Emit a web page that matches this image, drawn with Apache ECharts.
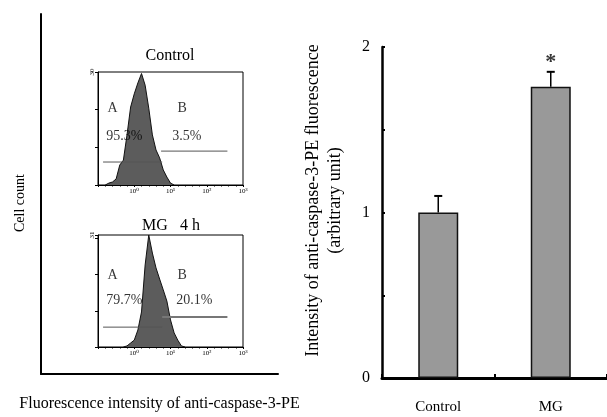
<!DOCTYPE html>
<html>
<head>
<meta charset="utf-8">
<script src="https://cdn.jsdelivr.net/npm/echarts@6/dist/echarts.min.js"></script>
<style>
html,body{margin:0;padding:0;background:#fff;}
#main{width:607px;height:417px;}
</style>
</head>
<body>
<div id="main"></div>
<script>
// histogram bins (log10 of fluorescence) and cell counts
var ctrlBins = [-0.8,-0.7,-0.6,-0.5,-0.4,-0.3,-0.2,-0.1,0,0.1,0.2,0.3,0.4,0.5,0.6,0.7,0.8,0.9,1.0,1.1];
var ctrlCounts = [0,0.5,0.8,1.6,5.3,6.6,13.3,20.7,24.2,27.1,29.6,26.5,20.4,13.3,9.3,7.2,4.0,2.1,0.5,0];
var mgBins = [-0.3,-0.2,-0.1,0,0.1,0.2,0.3,0.4,0.5,0.6,0.7,0.8,0.9,1.0,1.1,1.2,1.3,1.4];
var mgCounts = [0,0.3,1.1,1.9,4.7,9.7,22.7,31,26,21.9,18.8,15.8,12.7,7.5,3.9,1.9,0.3,0];
var histTicks = ['10⁰','10¹','10²','10³'];

// gates: [from, to, level]
var ctrlGateA = [-0.86, 0.77, 6.1];
var ctrlGateB = [0.74, 2.57, 9.0];
var mgGateA = [-0.86, 0.77, 5.5];
var mgGateB = [0.77, 2.57, 8.3];
var ctrlPercents = ['95.3%', '3.5%'];
var mgPercents = ['79.7%', '20.1%'];

// bar chart
var barCategories = ['Control', 'MG'];
var barValues = [1.0, 1.76];
var barErrors = [0.1, 0.09];
var barStars = ['', '*'];

function pairs(xs, ys) {
    var out = [];
    for (var i = 0; i < xs.length; i++) out.push([xs[i], ys[i]]);
    return out;
}
function gateLine(g) {
    return [[g[0], g[2]], [g[1], g[2]]];
}

var serif = '"Liberation Serif", "DejaVu Serif", serif';
var chart = echarts.init(document.getElementById('main'));

function histX(idx) {
    return {
        type: 'value', gridIndex: idx, min: -1, max: 3, interval: 1,
        axisLine: {onZero: false, lineStyle: {color: '#000', width: 1}},
        axisTick: {show: true, length: 2, lineStyle: {color: '#000'}},
        minorTick: {show: true, splitNumber: 5, length: 1.5, lineStyle: {color: '#000'}},
        axisLabel: {
            fontSize: 7, color: '#000', margin: 3, fontFamily: serif,
            formatter: function(v) { return v >= 0 ? histTicks[v] : ''; }
        },
        splitLine: {show: false}
    };
}
function histY(idx, max) {
    return {
        type: 'value', gridIndex: idx, min: 0, max: max, interval: 10,
        axisLine: {onZero: false, lineStyle: {color: '#000', width: 1}},
        axisTick: {show: true, length: 3, lineStyle: {color: '#000'}},
        axisLabel: {
            fontSize: 7, color: '#000', rotate: 90, margin: 2, fontFamily: serif,
            formatter: function(v) { return v === max ? String(max) : ''; }
        },
        splitLine: {show: false}
    };
}
function histSeries(idx, data) {
    return {
        type: 'line', xAxisIndex: idx, yAxisIndex: idx, data: data,
        symbol: 'none', lineStyle: {color: '#111', width: 1},
        areaStyle: {color: '#5c5c5c', opacity: 1}, z: 2
    };
}
function gateSeries(idx, g, w, c) {
    return {
        type: 'line', xAxisIndex: idx, yAxisIndex: idx, data: gateLine(g),
        symbol: 'none', lineStyle: {color: c, width: w}, z: 3
    };
}
function textSeries(idx, items) {
    return {
        type: 'scatter', xAxisIndex: idx, yAxisIndex: idx, symbolSize: 0,
        data: items,
        label: {
            show: true, position: 'right', distance: 0, color: '#000',
            fontSize: 14, fontFamily: serif,
            formatter: function(p) { return p.value[2]; }
        },
        z: 4
    };
}

chart.setOption({
    animation: false,
    backgroundColor: '#fff',
    title: [
        {text: 'Control', left: 165, top: 43, textAlign: 'center',
         textStyle: {fontSize: 16, fontWeight: 'normal', color: '#000', fontFamily: serif}},
        {text: 'MG   4 h', left: 166, top: 213, textAlign: 'center',
         textStyle: {fontSize: 16, fontWeight: 'normal', color: '#000', fontFamily: serif}}
    ],
    grid: [
        {left: 41, top: 14, width: 237, height: 368},
        {left: 98, top: 72, width: 145, height: 113, show: true, borderColor: '#000', borderWidth: 1},
        {left: 98, top: 235, width: 145, height: 112, show: true, borderColor: '#000', borderWidth: 1},
        {left: 382, top: 47, width: 234, height: 331}
    ],
    xAxis: [
        {
            type: 'value', gridIndex: 0, min: 0, max: 1,
            axisLine: {lineStyle: {color: '#000', width: 2}},
            axisTick: {show: false}, axisLabel: {show: false}, splitLine: {show: false},
            name: 'Fluorescence intensity of anti-caspase-3-PE', nameLocation: 'middle', nameGap: 22,
            nameTextStyle: {fontSize: 16, color: '#000', fontFamily: serif}
        },
        histX(1),
        histX(2),
        {
            type: 'category', gridIndex: 3, data: barCategories,
            axisLine: {lineStyle: {color: '#000', width: 3}},
            axisTick: {show: true, inside: true, length: 4, lineStyle: {color: '#000', width: 2}},
            axisLabel: {fontSize: 15, color: '#000', margin: 22, fontFamily: serif}
        }
    ],
    yAxis: [
        {
            type: 'value', gridIndex: 0, min: 0, max: 1,
            axisLine: {lineStyle: {color: '#000', width: 2}},
            axisTick: {show: false}, axisLabel: {show: false}, splitLine: {show: false},
            name: 'Cell count', nameLocation: 'middle', nameGap: 14,
            nameTextStyle: {fontSize: 14, color: '#000', fontFamily: serif, padding: [0, 18, 0, 0]}
        },
        histY(1, 30),
        histY(2, 31),
        {
            type: 'value', gridIndex: 3, min: 0, max: 2, interval: 1,
            axisLine: {show: true, lineStyle: {color: '#000', width: 2.5}},
            axisTick: {show: true, inside: true, length: 3, lineStyle: {color: '#000', width: 2}},
            minorTick: {show: true, splitNumber: 2, length: 3, lineStyle: {color: '#000', width: 2}},
            axisLabel: {fontSize: 16, color: '#000', margin: 12, fontFamily: serif},
            splitLine: {show: false},
            name: 'Intensity of anti-caspase-3-PE fluorescence\n(arbitrary unit)',
            nameLocation: 'middle', nameGap: 36,
            nameTextStyle: {fontSize: 18, lineHeight: 22, color: '#000', fontFamily: serif, padding: [0, 0, 0, 24]}
        }
    ],
    series: [
        histSeries(1, pairs(ctrlBins, ctrlCounts)),
        gateSeries(1, ctrlGateA, 1, '#555'),
        gateSeries(1, ctrlGateB, 1, '#555'),
        textSeries(1, [[-0.74, 20.4, 'A'], [1.19, 20.4, 'B'], [-0.77, 13, ctrlPercents[0]], [1.05, 13, ctrlPercents[1]]]),
        histSeries(2, pairs(mgBins, mgCounts)),
        gateSeries(2, mgGateA, 1, '#555'),
        gateSeries(2, mgGateB, 2, '#777'),
        textSeries(2, [[-0.74, 19.7, 'A'], [1.19, 19.7, 'B'], [-0.77, 13, mgPercents[0]], [1.16, 13, mgPercents[1]]]),
        {
            type: 'bar', xAxisIndex: 3, yAxisIndex: 3, data: barValues, barWidth: 40,
            itemStyle: {color: '#999', borderColor: '#111', borderWidth: 1.5}
        },
        {
            type: 'custom', xAxisIndex: 3, yAxisIndex: 3,
            data: barValues.map(function(v, i) { return [i, v, v + barErrors[i]]; }),
            renderItem: function(params, api) {
                var base = api.coord([api.value(0), api.value(1)]);
                var top = api.coord([api.value(0), api.value(2)]);
                return {
                    type: 'group',
                    children: [
                        {type: 'line', shape: {x1: base[0], y1: base[1], x2: base[0], y2: top[1]},
                         style: {stroke: '#000', lineWidth: 1.5}},
                        {type: 'line', shape: {x1: base[0] - 4, y1: top[1], x2: base[0] + 4, y2: top[1]},
                         style: {stroke: '#000', lineWidth: 2}}
                    ]
                };
            },
            z: 5
        },
        {
            type: 'scatter', xAxisIndex: 3, yAxisIndex: 3, symbolSize: 0,
            data: barValues.map(function(v, i) { return [i, v + barErrors[i] + 0.06, barStars[i]]; }),
            label: {
                show: true, position: 'inside', fontSize: 22, fontWeight: 'bold', color: '#000',
                fontFamily: serif,
                formatter: function(p) { return p.value[2]; }
            }
        }
    ]
});
</script>
</body>
</html>
